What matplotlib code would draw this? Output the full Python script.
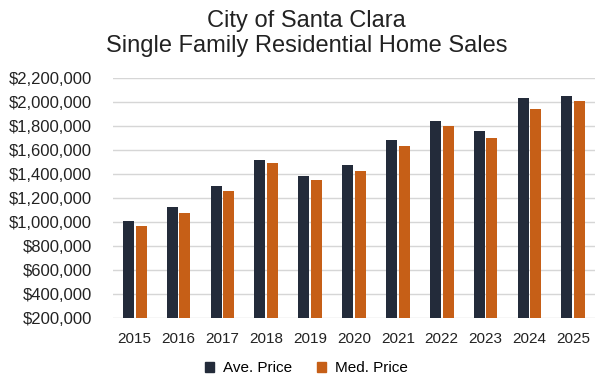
import matplotlib
matplotlib.use('Agg')
import matplotlib.pyplot as plt
import numpy as np
from matplotlib.patches import Patch
from matplotlib.ticker import FuncFormatter

years = ['2015', '2016', '2017', '2018', '2019', '2020',
         '2021', '2022', '2023', '2024', '2025']
ave_price = [1008000, 1125000, 1302000, 1519000, 1383000, 1472000,
             1681000, 1842000, 1761000, 2031000, 2047000]
med_price = [969000, 1072000, 1261000, 1492000, 1350000, 1425000,
             1633000, 1797000, 1700000, 1944000, 2006000]

DARK = '#232b3a'
ORANGE = '#c65f17'

plt.rcParams['font.family'] = ['Liberation Sans', 'DejaVu Sans']

fig = plt.figure(figsize=(6.13, 3.81), dpi=100)
ax = fig.add_axes([0.184, 0.165, 0.787, 0.630])

x = np.arange(len(years))
w = 0.25
gap = 0.04
ax.bar(x - (w + gap) / 2, ave_price, w, color=DARK, zorder=3)
ax.bar(x + (w + gap) / 2, med_price, w, color=ORANGE, zorder=3)

ax.set_ylim(200000, 2200000)
ax.set_yticks(np.arange(200000, 2200001, 200000))
ax.yaxis.set_major_formatter(FuncFormatter(lambda v, p: f'${v:,.0f}'))
ax.set_xlim(-0.5, len(years) - 0.5)
ax.set_xticks(x)
ax.set_xticklabels(years)

ax.grid(axis='y', color='#d6d6d6', linewidth=1, zorder=0)
ax.tick_params(axis='y', length=0, labelsize=12, pad=15, colors='#222222')
ax.tick_params(axis='x', length=0, labelsize=11, pad=10, colors='#222222')
for s in ax.spines.values():
    s.set_visible(False)

fig.text(0.5, 0.912, 'City of Santa Clara\nSingle Family Residential Home Sales',
         ha='center', va='center', fontsize=17, color='#222222', linespacing=1.15)

handles = [Patch(color=DARK, label='Ave. Price'),
           Patch(color=ORANGE, label='Med. Price')]
fig.legend(handles=handles, loc='center', bbox_to_anchor=(0.5, 0.034), ncol=2,
           frameon=False, fontsize=11, handlelength=0.6, handleheight=0.6,
           handletextpad=0.6, columnspacing=1.6)

fig.savefig('out.png', dpi=100)
